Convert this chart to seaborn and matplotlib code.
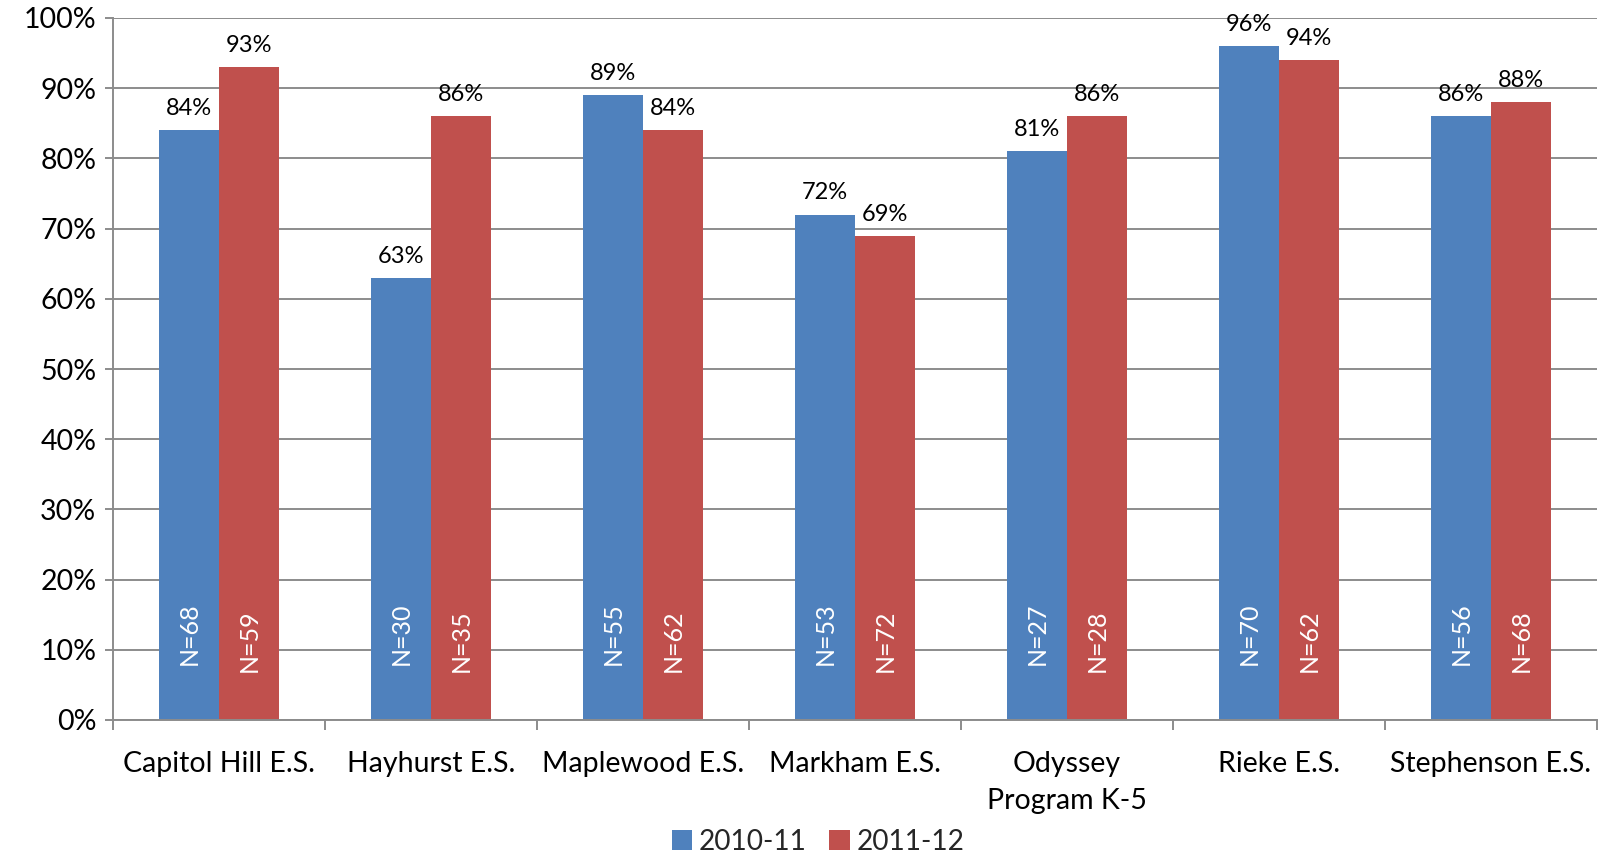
import matplotlib
matplotlib.use("Agg")
import matplotlib.pyplot as plt
import seaborn as sns
import pandas as pd
import numpy as np
from matplotlib.patches import Patch
from matplotlib.ticker import FixedLocator

schools = ["Capitol Hill E.S.", "Hayhurst E.S.", "Maplewood E.S.", "Markham E.S.",
           "Odyssey\nProgram K-5", "Rieke E.S.", "Stephenson E.S."]
years = ["2010-11", "2011-12"]
pct_2010 = [84, 63, 89, 72, 81, 96, 86]
pct_2011 = [93, 86, 84, 69, 86, 94, 88]
n_2010 = [68, 30, 55, 53, 27, 70, 56]
n_2011 = [59, 35, 62, 72, 28, 62, 68]
y_ticks = list(range(0, 101, 10))
colors = ["#4F81BD", "#C0504D"]

df = pd.DataFrame({
    "school": schools * 2,
    "year": [years[0]] * len(schools) + [years[1]] * len(schools),
    "pct": pct_2010 + pct_2011,
    "n": n_2010 + n_2011,
})

sns.set_theme(style="white")
plt.rcParams["font.family"] = ["Lato", "DejaVu Sans"]

fig = plt.figure(figsize=(15.98, 8.60), dpi=100)
ax = fig.add_axes([113 / 1598, 1 - 720 / 860, (1597 - 113) / 1598, (720 - 18) / 860])

sns.barplot(data=df, x="school", y="pct", hue="year", hue_order=years,
            palette=colors, width=0.57, saturation=1, ax=ax, legend=False,
            edgecolor="none", linewidth=0)

ax.set_ylim(0, 100)
ax.set_xlim(-0.5, len(schools) - 0.5)
ax.set_yticks(y_ticks)
ax.set_yticklabels([f"{v}%" for v in y_ticks])
ax.grid(axis="y", color="#8c8c8c", linewidth=1.4)
ax.set_axisbelow(True)
ax.set_xlabel("")
ax.set_ylabel("")

for side in ["top", "right"]:
    ax.spines[side].set_visible(False)
for side in ["left", "bottom"]:
    ax.spines[side].set_color("#8c8c8c")
    ax.spines[side].set_linewidth(1.4)

ax.tick_params(axis="y", which="major", length=6, width=1.4, color="#8c8c8c",
               labelsize=20.5, pad=6, left=True, labelcolor="black")
ax.tick_params(axis="x", which="major", length=0, labelsize=20.5, pad=22, labelcolor="black")
for lbl in ax.get_xticklabels():
    lbl.set_linespacing(1.55)
ax.xaxis.set_minor_locator(FixedLocator(np.arange(-0.5, len(schools), 1.0)))
ax.tick_params(axis="x", which="minor", length=7, width=1.4, color="#8c8c8c", bottom=True)

# labels
for ci, (cont, vals, ns) in enumerate(zip(ax.containers, [pct_2010, pct_2011], [n_2010, n_2011])):
    for bar, v, n in zip(cont, vals, ns):
        xc = bar.get_x() + bar.get_width() / 2
        ax.annotate(f"{v}%", (xc, v), xytext=(0, 8), textcoords="offset points",
                    ha="center", va="bottom", fontsize=17, color="black")
        ax.text(xc, 7.8 if ci == 0 else 6.8, f"N={n}", rotation=90, ha="center", va="bottom",
                fontsize=18, color="white")

handles = [Patch(facecolor=c, edgecolor="none") for c in colors]
fig.legend(handles, years, loc="center", bbox_to_anchor=(0.512, 0.021), ncol=2,
           frameon=False, fontsize=20.2, handlelength=0.72, handleheight=0.72,
           handletextpad=0.25, columnspacing=0.8)

fig.savefig("out.png", dpi=100)
